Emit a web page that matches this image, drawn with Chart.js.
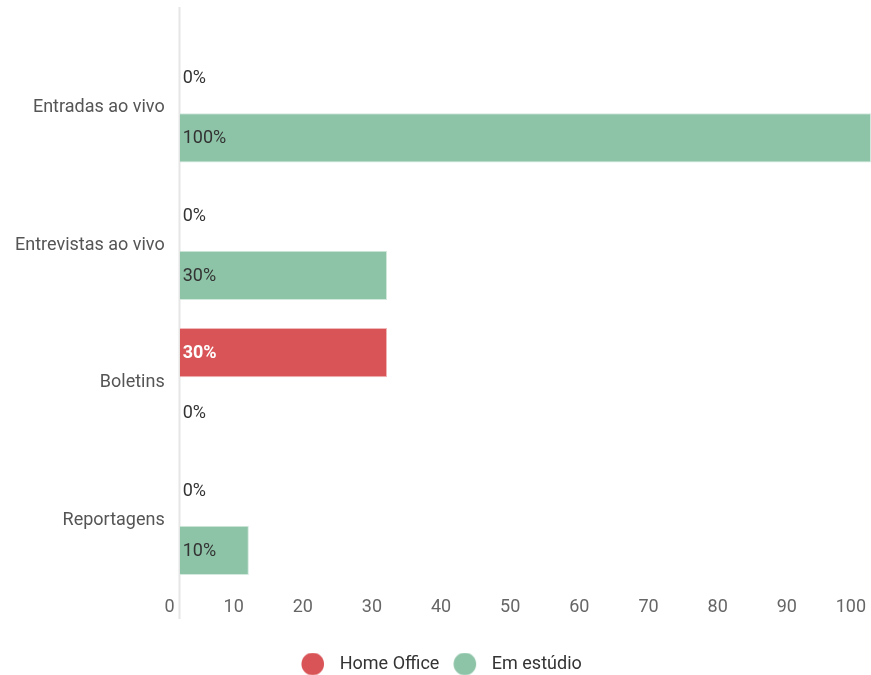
<!DOCTYPE html>
<html>
<head>
<meta charset="utf-8">
<script src="https://cdn.jsdelivr.net/npm/chart.js@4"></script>
<style>
html,body{margin:0;padding:0;background:#fff;}
#wrap{width:871px;height:675px;position:relative;}
</style>
</head>
<body>
<div id="wrap"><canvas id="c" width="871" height="675"></canvas></div>
<script>
const categories = ["Entradas ao vivo", "Entrevistas ao vivo", "Boletins", "Reportagens"];
const seriesNames = ["Home Office", "Em estúdio"];
const homeOffice = [0, 0, 30, 0];
const emEstudio = [100, 30, 0, 10];
const xTicks = [0, 10, 20, 30, 40, 50, 60, 70, 80, 90, 100];

const RED = "#d95457";
const GREEN = "#8dc3a7";

function dot(color) {
  const c = document.createElement("canvas");
  c.width = 30; c.height = 23;
  const g = c.getContext("2d");
  g.fillStyle = color;
  g.beginPath();
  g.arc(17.75, 11.5, 11.3, 0, Math.PI * 2);
  g.fill();
  return c;
}
const dots = [dot(RED), dot(GREEN)];

const axisLinePlugin = {
  id: "axisLine",
  beforeDatasetsDraw(chart) {
    const { ctx, chartArea, scales } = chart;
    const x0 = Math.round(scales.x.getPixelForValue(0)) - 0.5;
    ctx.save();
    ctx.strokeStyle = "#e6e6e6";
    ctx.lineWidth = 2;
    ctx.beginPath();
    ctx.moveTo(x0, chartArea.top - 32);
    ctx.lineTo(x0, chartArea.bottom + 30);
    ctx.stroke();
    ctx.restore();
  }
};

const valueLabelPlugin = {
  id: "valueLabels",
  afterDatasetsDraw(chart) {
    const { ctx, scales } = chart;
    const x0 = scales.x.getPixelForValue(0);
    ctx.save();
    ctx.textBaseline = "middle";
    ctx.textAlign = "left";
    chart.data.datasets.forEach((ds, di) => {
      const meta = chart.getDatasetMeta(di);
      meta.data.forEach((bar, i) => {
        const v = ds.data[i];
        const onRed = di === 0 && v > 0;
        ctx.font = (onRed ? "bold " : "") + "18px Roboto";
        ctx.fillStyle = onRed ? "#ffffff" : "#333333";
        ctx.fillText(v + "%", x0 + 3, bar.y + 1);
      });
    });
    ctx.restore();
  }
};

new Chart(document.getElementById("c"), {
  type: "bar",
  data: {
    labels: categories,
    datasets: [
      { label: seriesNames[0], data: homeOffice, backgroundColor: RED, borderColor: "#f0b8b9", borderWidth: 1, borderSkipped: "left",
        categoryPercentage: 0.876, barPercentage: 0.82, pointStyle: dots[0] },
      { label: seriesNames[1], data: emEstudio, backgroundColor: GREEN, borderColor: "#d3e9dd", borderWidth: 1, borderSkipped: "left",
        categoryPercentage: 0.876, barPercentage: 0.82, pointStyle: dots[1] }
    ]
  },
  options: {
    indexAxis: "y",
    responsive: false,
    animation: false,
    devicePixelRatio: 1,
    layout: { padding: { top: 39, right: 0, bottom: -8, left: 0 } },
    scales: {
      x: {
        min: 0, max: 100,
        afterBuildTicks(scale) { scale.ticks = xTicks.map(v => ({ value: v })); },
        afterFit(scale) { scale.paddingRight = 0; scale.paddingLeft = 0; scale.height = 64; },
        grid: { display: false, drawTicks: false },
        border: { display: false },
        ticks: { color: "#666666", font: { family: "Roboto", size: 18 }, padding: 8, align: "end", labelOffset: -5 }
      },
      y: {
        grid: { display: false, drawTicks: false },
        border: { display: false },
        ticks: { color: "#555555", font: { family: "Roboto", size: 18 }, padding: 15 }
      }
    },
    plugins: {
      legend: {
        position: "bottom",
        labels: {
          usePointStyle: true,
          pointStyleWidth: 41.5,
          boxHeight: 16,
          color: "#333333",
          font: { family: "Roboto", size: 18 },
          padding: 2
        }
      },
      tooltip: { enabled: false }
    }
  },
  plugins: [axisLinePlugin, valueLabelPlugin]
});
</script>
</body>
</html>
